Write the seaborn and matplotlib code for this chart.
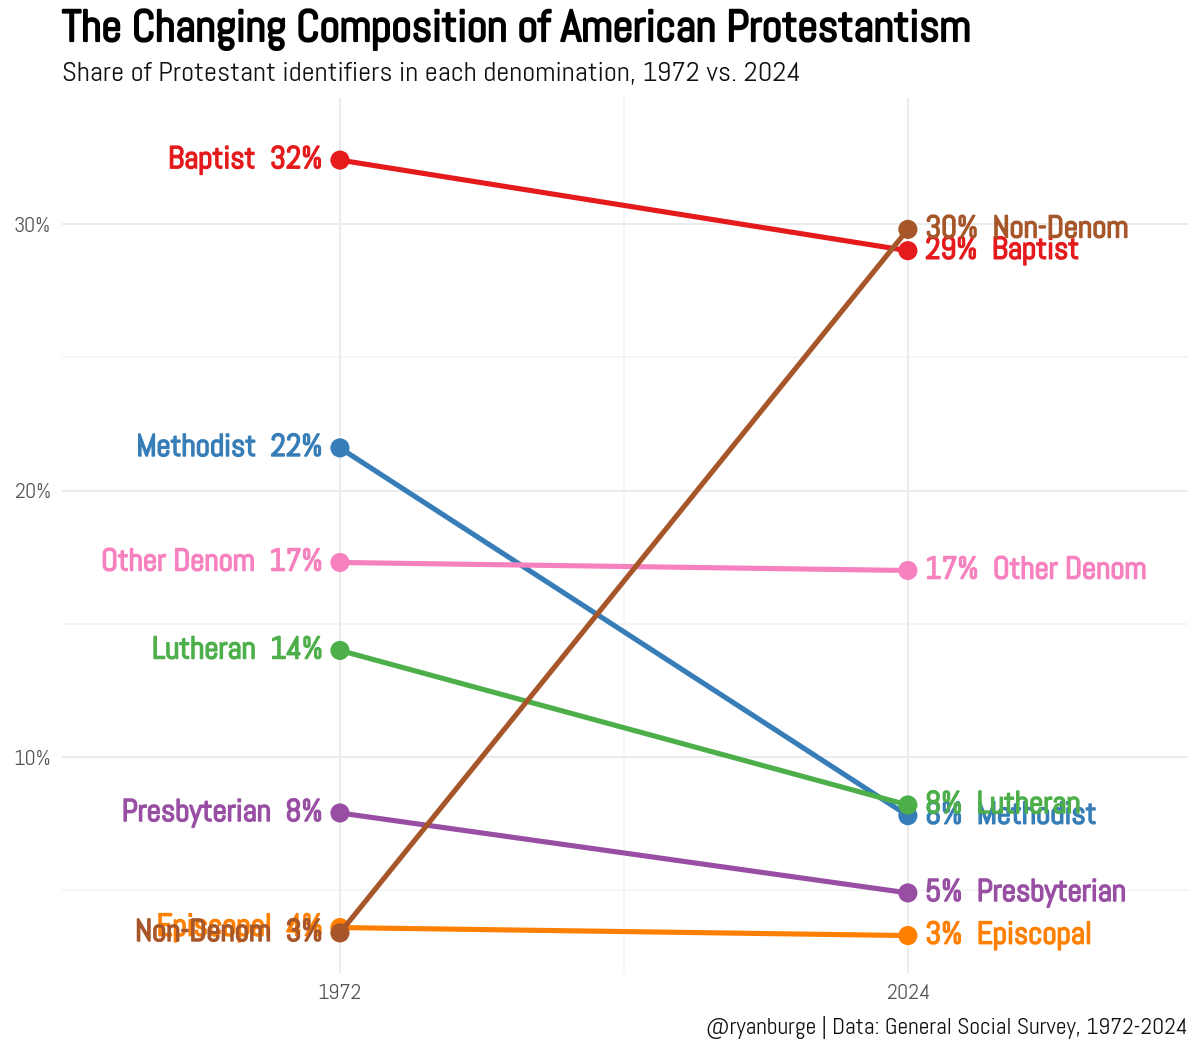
import matplotlib
matplotlib.use("Agg")
import matplotlib.pyplot as plt
import matplotlib.patheffects as pe
import seaborn as sns
import pandas as pd

# ---- data ----
denoms = ["Baptist", "Methodist", "Other Denom", "Presbyterian", "Lutheran", "Episcopal", "Non-Denom"]
share_1972 = [32.4, 21.6, 17.3, 7.9, 14.0, 3.6, 3.4]
share_2024 = [29.0, 7.8, 17.0, 4.9, 8.2, 3.3, 29.8]
years = [1972, 2024]
colors = {
    "Baptist": "#E41A1C",
    "Methodist": "#377EB8",
    "Lutheran": "#4DAF4A",
    "Presbyterian": "#984EA3",
    "Episcopal": "#FF7F00",
    "Non-Denom": "#A65628",
    "Other Denom": "#F781BF",
}
y_ticks = [10, 20, 30]
y_minor = [5, 15, 25]

title = "The Changing Composition of American Protestantism"
subtitle = "Share of Protestant identifiers in each denomination, 1972 vs. 2024"
caption = "@ryanburge | Data: General Social Survey, 1972-2024"

rows = []
for d, a, b in zip(denoms, share_1972, share_2024):
    rows.append({"denom": d, "year": years[0], "share": a})
    rows.append({"denom": d, "year": years[1], "share": b})
df = pd.DataFrame(rows)

sns.set_theme(style="white")
plt.rcParams["font.family"] = ["Abel", "DejaVu Sans"]


def bold(color, w):
    return [pe.withStroke(linewidth=w, foreground=color)]


W, H = 1200, 1050
fig = plt.figure(figsize=(12, 10.5), dpi=100)
ax = fig.add_axes([62 / W, 1 - 973 / H, (1188 - 62) / W, (973 - 98) / H])

# grid
for y in y_ticks:
    ax.axhline(y, color="#EBEBEB", lw=1.4, zorder=0)
for y in y_minor:
    ax.axhline(y, color="#F2F2F2", lw=1.1, zorder=0)
for x in years:
    ax.axvline(x, color="#EBEBEB", lw=1.4, zorder=0)
ax.axvline((years[0] + years[1]) / 2, color="#F2F2F2", lw=1.1, zorder=0)

for i, d in enumerate(denoms):
    sub = df[df.denom == d]
    c = colors[d]
    sns.lineplot(data=sub, x="year", y="share", color=c, lw=3.7, ax=ax,
                 zorder=2 + i * 0.1, legend=False)
    sns.scatterplot(data=sub, x="year", y="share", color=c, s=190,
                    edgecolor="none", ax=ax, zorder=2.05 + i * 0.1, legend=False)
    a = sub[sub.year == years[0]].share.values[0]
    b = sub[sub.year == years[1]].share.values[0]
    ax.annotate(f"{d}  {a:.0f}%", xy=(years[0], a), xytext=(-12.5, 0),
                textcoords="offset points", ha="right", va="center",
                fontsize=22.5, color=c, zorder=3 + i * 0.1,
                path_effects=bold(c, 1.2))
    ax.annotate(f"{b:.0f}%  {d}", xy=(years[1], b), xytext=(12.5, 0),
                textcoords="offset points", ha="left", va="center",
                fontsize=22.5, color=c, zorder=3 + i * 0.1,
                path_effects=bold(c, 1.2))

ax.set_xlim(1946.55, 2049.65)
ax.set_ylim(1.895, 34.73)
ax.set_xticks(years)
ax.set_xticklabels([str(y) for y in years])
ax.set_yticks(y_ticks)
ax.set_yticklabels([f"{y}%" for y in y_ticks])
ax.tick_params(axis="both", length=0, labelsize=16, labelcolor="#555555")
ax.tick_params(axis="x", pad=8)
ax.tick_params(axis="y", pad=8)
ax.set_xlabel("")
ax.set_ylabel("")
for s in ax.spines.values():
    s.set_visible(False)

fig.text(62 / W, 1 - 41 / H, title, fontsize=32, color="#000000",
         ha="left", va="baseline", path_effects=bold("#000000", 1.6))
fig.text(62 / W, 1 - 81 / H, subtitle, fontsize=20.5, color="#111111",
         ha="left", va="baseline")
fig.text(1188 / W, 1 - 1034 / H, caption, fontsize=17, color="#111111",
         ha="right", va="baseline")

fig.savefig("out.png", dpi=100)
